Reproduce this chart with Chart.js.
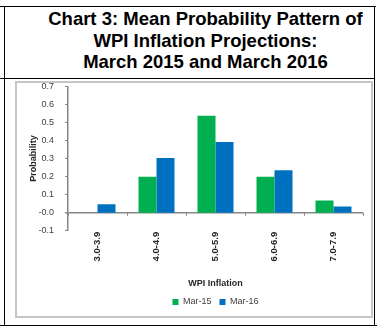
<!DOCTYPE html>
<html>
<head>
<meta charset="utf-8">
<script src="https://cdn.jsdelivr.net/npm/chart.js@4"></script>
<style>
    html, body { margin: 0; padding: 0; background: #fff; }
    body { width: 384px; height: 328px; position: relative; overflow: hidden; font-family: 'Liberation Sans', Arial, sans-serif; }
    .line { position: absolute; background: #000; }
    .title {
        position: absolute; left: 5px; top: 7px; width: 369px; height: 71px;
        padding: 1px 0 0 32px; box-sizing: border-box;
        text-align: center; font-weight: bold; font-size: 18.5px; line-height: 21.5px; color: #000;
    }
    .frame { position: absolute; left: 15px; top: 81px; width: 358px; height: 237px; border: 2px solid #c6c6c6; box-sizing: border-box; }
    #wrap { position: absolute; left: 0; top: 70px; width: 384px; height: 258px; }
</style>
</head>
<body>
<!-- 表格边框 -->
<div class="line" style="left:0;top:6px;width:376px;height:1px"></div>
<div class="line" style="left:0;top:78px;width:375px;height:1px"></div>
<div class="line" style="left:0;top:325px;width:377px;height:1px"></div>
<div class="line" style="left:4px;top:6px;width:1px;height:320px"></div>
<div class="line" style="left:374px;top:6px;width:1px;height:320px"></div>

<div class="title">Chart 3: Mean Probability Pattern of<br>WPI Inflation Projections:<br>March 2015 and March 2016</div>
<div class="frame"></div>
<div id="wrap"><canvas id="probChart" width="384" height="258"></canvas></div>

<script>
// 数据
const categories = ['3.0-3.9', '4.0-4.9', '5.0-5.9', '6.0-6.9', '7.0-7.9'];
const mar15 = [0, 0.20, 0.537, 0.20, 0.068];
const mar16 = [0.047, 0.303, 0.392, 0.236, 0.035];
const seriesNames = ['Mar-15', 'Mar-16'];
const yMin = -0.1;
const yMax = 0.7;
const yStep = 0.1;

const axisColor = '#868686';
const textColor = '#404040';
const fontFamily = "'Liberation Sans', Arial, sans-serif";

// 0 轴上的小刻度线
const zeroTicks = {
    id: 'zeroTicks',
    afterDatasetsDraw(chart) {
        const x = chart.scales.x;
        const y0 = chart.scales.y.getPixelForValue(0);
        const ctx = chart.ctx;
        ctx.save();
        ctx.strokeStyle = axisColor;
        ctx.lineWidth = 1;
        for (let i = 0; i <= categories.length; i++) {
            const px = Math.round(x.getPixelForValue(i - 0.5)) + 0.5;
            ctx.beginPath();
            ctx.moveTo(px, y0);
            ctx.lineTo(px, y0 + 3);
            ctx.stroke();
        }
        ctx.restore();
    }
};

const data = {
    labels: categories,
    datasets: [{
        label: seriesNames[0],
        data: mar15,
        backgroundColor: '#00b050',
        categoryPercentage: 0.61,
        barPercentage: 1.0
    }, {
        label: seriesNames[1],
        data: mar16,
        backgroundColor: '#0070c0',
        categoryPercentage: 0.61,
        barPercentage: 1.0
    }]
};

const options = {
    responsive: false,
    animation: false,
    layout: { padding: { left: 15, right: 21, top: 0, bottom: 11.6 } },
    scales: {
        x: {
            grid: { display: false, drawTicks: false },
            border: { display: false },
            ticks: {
                minRotation: 90,
                maxRotation: 90,
                padding: 1,
                color: '#262626',
                font: { family: fontFamily, size: 9.5, weight: 'bold' }
            },
            title: {
                display: true,
                text: 'WPI Inflation',
                color: '#262626',
                padding: { top: 0, bottom: 0 },
                font: { family: fontFamily, size: 9, weight: 'bold' }
            },
            afterFit: (scale) => { scale.height = 58.6; }
        },
        y: {
            min: yMin,
            max: yMax,
            ticks: {
                stepSize: yStep,
                padding: 11,
                color: textColor,
                font: { family: fontFamily, size: 9 },
                callback: (v) => Number(v).toFixed(1)
            },
            grid: {
                color: (c) => Math.abs(c.tick.value) < 1e-9 ? axisColor : 'rgba(0,0,0,0)',
                lineWidth: (c) => Math.abs(c.tick.value) < 1e-9 ? 1.5 : 1,
                tickColor: axisColor,
                tickLength: 3
            },
            border: { display: true, color: axisColor, width: 1.5 },
            title: {
                display: true,
                text: 'Probability',
                color: '#262626',
                padding: { top: 13, bottom: 0 },
                font: { family: fontFamily, size: 9, weight: 'bold' }
            },
            afterFit: (scale) => { scale.width = 53; }
        }
    },
    plugins: {
        legend: {
            position: 'bottom',
            fullSize: false,
            labels: {
                boxWidth: 6,
                boxHeight: 6,
                padding: 8,
                color: textColor,
                font: { family: fontFamily, size: 9 }
            }
        },
        tooltip: { enabled: false }
    }
};

new Chart(document.getElementById('probChart'), {
    type: 'bar',
    data: data,
    options: options,
    plugins: [zeroTicks]
});
</script>
</body>
</html>
